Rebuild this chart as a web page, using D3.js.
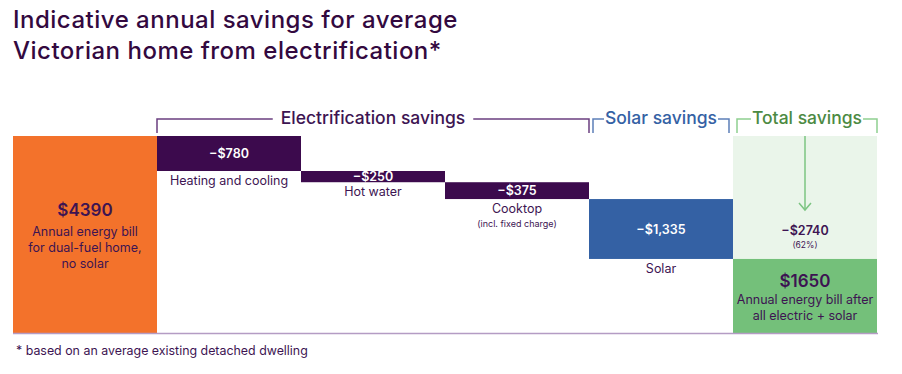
<!DOCTYPE html>
<html>
<head>
<meta charset="utf-8">
<script src="https://cdn.jsdelivr.net/npm/d3@7"></script>
<style>
  body { margin: 0; background: #fff; }
  svg { display: block; font-family: Inter, "Noto Sans", sans-serif; }
</style>
</head>
<body>
<div id="chart"></div>
<script>
// data
const steps = ["start", "heating", "hotwater", "cooktop", "solar", "total"]
const stepLabels = ["", "Heating and cooling", "Hot water", "Cooktop", "Solar", ""]
const stepNotes = ["", "", "", "(incl. fixed charge)", "", ""]
const startBill = 4390
const savings = [780, 250, 375, 1335]          // heating, hot water, cooktop, solar
const savingLabels = ["\u2212$780", "\u2212$250", "\u2212$375", "\u2212$1,335"]
const endBill = 1650
const totalSaving = 2740
const totalPct = "(62%)"

const groups = [
    {name: "Electrification savings", from: "heating", to: "cooktop", color: "#3d1452", line: "#6b3f80"},
    {name: "Solar savings", from: "solar", to: "solar", color: "#3461a4", line: "#5c7fb8"},
    {name: "Total savings", from: "total", to: "total", color: "#4c8a43", line: "#8fcf90"}
]

const purple = "#3d1452"
const width = 902, height = 374

var svg = d3.select("#chart").append("svg")
    .attr("width", width)
    .attr("height", height)

var x = d3.scaleBand().domain(steps).range([13, 877]).padding(0)
var y = d3.scaleLinear().domain([0, startBill]).range([333, 136])

// title
svg.append("text")
    .attr("x", 13).attr("y", 28)
    .attr("font-size", 24).attr("font-weight", 500).attr("fill", "#33093f")
    .attr("letter-spacing", 0.5)
    .selectAll("tspan")
    .data(["Indicative annual savings for average", "Victorian home from electrification*"])
    .enter().append("tspan")
    .attr("x", 13)
    .attr("dy", (d, i) => i ? 31 : 0)
    .text(d => d)

// running totals for the floating bars
let level = startBill
const floats = savings.map((s, i) => {
    const top = level
    level -= s
    return {key: steps[i + 1], top: top, bottom: level, label: savingLabels[i]}
})

// light green total band behind the arrow
svg.append("rect")
    .attr("x", x("total")).attr("width", x.bandwidth())
    .attr("y", y(startBill)).attr("height", y(endBill) - y(startBill))
    .attr("fill", "#eaf5ea")

// start bar
svg.append("rect")
    .attr("x", x("start")).attr("width", x.bandwidth())
    .attr("y", y(startBill)).attr("height", y(0) - y(startBill))
    .attr("fill", "#f3722b")

// floating savings bars
svg.selectAll(".float")
    .data(floats)
    .enter().append("rect")
    .attr("class", "float")
    .attr("x", d => x(d.key)).attr("width", x.bandwidth())
    .attr("y", d => y(d.top)).attr("height", d => y(d.bottom) - y(d.top))
    .attr("fill", d => d.key == "solar" ? "#3461a4" : "#3c0a4d")

svg.selectAll(".floatVal")
    .data(floats)
    .enter().append("text")
    .attr("x", d => x(d.key) + x.bandwidth() / 2)
    .attr("y", d => (y(d.top) + y(d.bottom)) / 2 + 4.5)
    .attr("text-anchor", "middle")
    .attr("font-size", 12.5).attr("font-weight", 600).attr("fill", "#fff")
    .text(d => d.label)

svg.selectAll(".floatLab")
    .data(floats)
    .enter().append("text")
    .attr("x", d => x(d.key) + x.bandwidth() / 2)
    .attr("y", d => y(d.bottom) + 14)
    .attr("text-anchor", "middle")
    .attr("font-size", 12.5).attr("fill", purple)
    .text(d => stepLabels[steps.indexOf(d.key)])

svg.selectAll(".floatNote")
    .data(floats.filter(d => stepNotes[steps.indexOf(d.key)]))
    .enter().append("text")
    .attr("x", d => x(d.key) + x.bandwidth() / 2)
    .attr("y", d => y(d.bottom) + 28)
    .attr("text-anchor", "middle")
    .attr("font-size", 9).attr("fill", purple)
    .text(d => stepNotes[steps.indexOf(d.key)])

// end bar
svg.append("rect")
    .attr("x", x("total")).attr("width", x.bandwidth())
    .attr("y", y(endBill)).attr("height", y(0) - y(endBill))
    .attr("fill", "#74c07a")

// baseline
svg.append("line")
    .attr("x1", x("start")).attr("x2", x("total") + x.bandwidth() + 1)
    .attr("y1", y(0) + 0.5).attr("y2", y(0) + 0.5)
    .attr("stroke", "#b49cc4").attr("stroke-width", 1.5)

// arrow in total column
const cx = x("total") + x.bandwidth() / 2
svg.append("line")
    .attr("x1", cx).attr("x2", cx)
    .attr("y1", y(startBill)).attr("y2", 210)
    .attr("stroke", "#7cc482").attr("stroke-width", 1.5)
svg.append("path")
    .attr("d", `M${cx - 6},${203} L${cx},${210} L${cx + 6},${203}`)
    .attr("fill", "none").attr("stroke", "#7cc482").attr("stroke-width", 1.5)

// bar text blocks
function block(cxPos, items) {
    items.forEach(t => {
        svg.append("text")
            .attr("x", cxPos).attr("y", t.y)
            .attr("text-anchor", "middle")
            .attr("font-size", t.size).attr("font-weight", t.weight || 400)
            .attr("fill", purple)
            .text(t.text)
    })
}

const sx = x("start") + x.bandwidth() / 2
block(sx, [
    {y: 216, size: 17, weight: 600, text: "$" + startBill},
    {y: 236, size: 12.5, text: "Annual energy bill"},
    {y: 252, size: 12.5, text: "for dual-fuel home,"},
    {y: 268, size: 12.5, text: "no solar"}
])

block(cx, [
    {y: 235, size: 12.5, weight: 600, text: "\u2212$" + totalSaving},
    {y: 248, size: 8.5, text: totalPct},
    {y: 287, size: 17, weight: 600, text: "$" + endBill},
    {y: 304, size: 12.5, text: "Annual energy bill after"},
    {y: 320, size: 12.5, text: "all electric + solar"}
])

// brackets above the columns
const by = 119
groups.forEach((g, i) => {
    const inset = i == 0 ? 0 : 4
    const x0 = x(g.from) + (i == 0 ? 0 : inset)
    const x1 = x(g.to) + x.bandwidth() - (i == 2 ? 0 : inset)
    const mid = (x0 + x1) / 2
    const lab = svg.append("text")
        .attr("x", mid).attr("y", by + 5)
        .attr("text-anchor", "middle")
        .attr("font-size", 17.5).attr("font-weight", 500)
        .attr("fill", g.color)
        .text(g.name)
    const w = lab.node().getComputedTextLength()
    const gap = i == 0 ? 8 : 1
    svg.append("path")
        .attr("d", `M${x0},${by + 14} V${by} H${mid - w / 2 - gap}`)
        .attr("fill", "none").attr("stroke", g.line).attr("stroke-width", 1.5)
    svg.append("path")
        .attr("d", `M${mid + w / 2 + gap},${by} H${x1} V${by + 14}`)
        .attr("fill", "none").attr("stroke", g.line).attr("stroke-width", 1.5)
})

// footnote
svg.append("text")
    .attr("x", 16).attr("y", 355)
    .attr("font-size", 12.4).attr("fill", purple)
    .text("* based on an average existing detached dwelling")
</script>
</body>
</html>
